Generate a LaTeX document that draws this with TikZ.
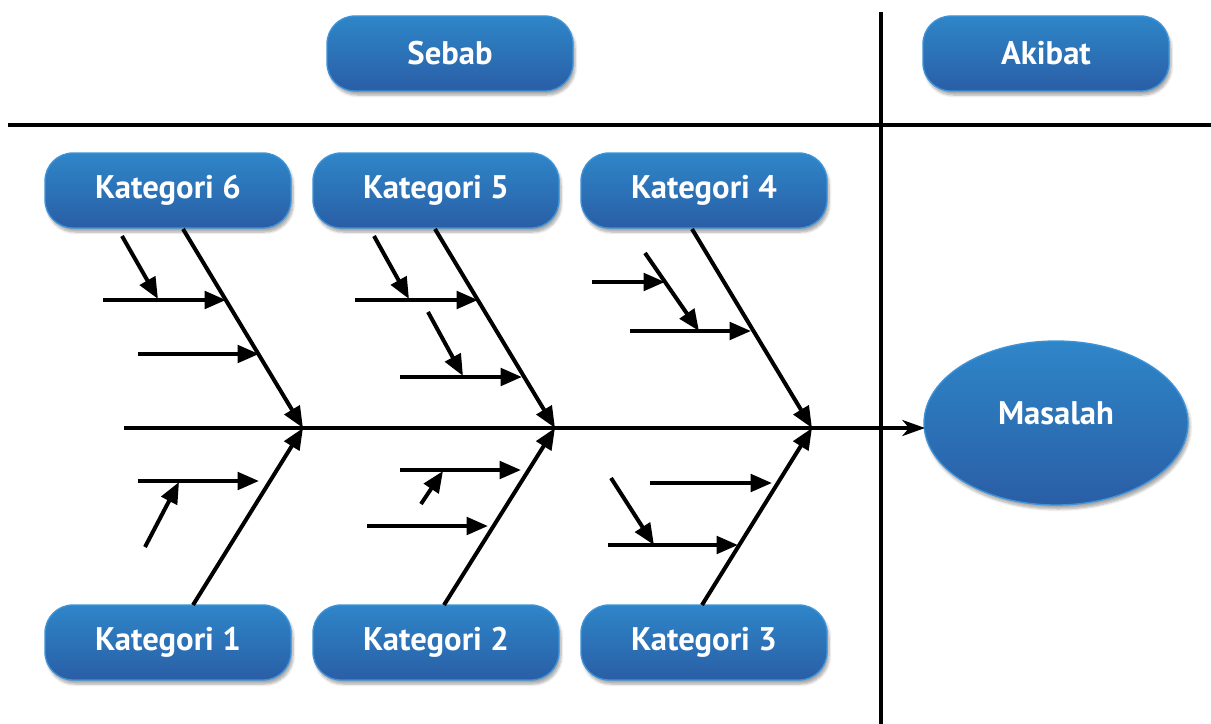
\documentclass[tikz,border=0pt]{standalone}
\usepackage{fontspec}
\setmainfont{PT Sans}
\usetikzlibrary{arrows.meta,shadows,shadows.blur,shapes.geometric}

\definecolor{boxtop}{HTML}{2E86C8}
\definecolor{boxbot}{HTML}{2A5EA6}
\definecolor{boxedge}{HTML}{3D93D9}

\begin{document}
\begin{tikzpicture}[x=0.75pt,y=-0.75pt,
  label font/.style={text=white, font=\bfseries\fontsize{24.5}{28}\selectfont},
  catbox/.style={label font, draw=boxedge, line width=1pt, rounded corners=21pt,
    top color=boxtop, bottom color=boxbot,
    minimum width=184.5pt, minimum height=56.25pt, inner sep=0pt,
    blur shadow={shadow xshift=1.5pt, shadow yshift=-3pt, shadow opacity=35, shadow blur steps=6}},
  effect/.style={ellipse, draw=boxedge, line width=1pt,
    top color=boxtop, bottom color=boxbot,
    minimum width=198pt, minimum height=123pt, inner sep=0pt,
    blur shadow={shadow xshift=1.5pt, shadow yshift=-3pt, shadow opacity=35, shadow blur steps=6}},
  rule/.style={line width=3pt},
  bone/.style={line width=3pt, -{Triangle[length=16pt, width=13pt]}},
  spine/.style={line width=2.6pt, -{Stealth[length=17pt, width=12pt, inset=5pt]}}
]
\useasboundingbox (0,0) rectangle (1211,724);

% frame rules
\coordinate (vtop) at (881,12);
\coordinate (vbot) at (881,724);
\coordinate (hl) at (8,125);
\coordinate (hr) at (1211,125);
\draw[rule] (vtop) -- (vbot);
\draw[rule] (hl) -- (hr);

% header boxes
\node[catbox] (sebab) at (450,53.5) {Sebab};
\node[catbox] (akibat) at (1046,53.5) {Akibat};

% category boxes
\node[catbox] (k6) at (168,190.5) {Kategori 6};
\node[catbox] (k5) at (436,190.5) {Kategori 5};
\node[catbox] (k4) at (704,190.5) {Kategori 4};
\node[catbox] (k1) at (168,642.5) {Kategori 1};
\node[catbox] (k2) at (436,642.5) {Kategori 2};
\node[catbox] (k3) at (704,642.5) {Kategori 3};

% effect, its label sits a little above the centre
\node[effect] (masalah) at (1056,423) {};
\node[label font] (masalahtext) at (1056,413) {Masalah};

% spine
\coordinate (tail) at (124,428);
\coordinate (head) at (925,428);
\draw[spine] (tail) -- (head);

% junctions on the spine
\coordinate (j1) at (303,428);
\coordinate (j2) at (555,428);
\coordinate (j3) at (812,428);

% main bones
\coordinate (b6) at (183,229);
\coordinate (b5) at (435,229);
\coordinate (b4) at (692,229);
\coordinate (b1) at (193,605);
\coordinate (b2) at (444,605);
\coordinate (b3) at (702,605);
\draw[bone] (b6) -- (j1);
\draw[bone] (b1) -- (j1);
\draw[bone] (b5) -- (j2);
\draw[bone] (b2) -- (j2);
\draw[bone] (b4) -- (j3);
\draw[bone] (b3) -- (j3);

% Kategori 6 causes
\coordinate (a6s) at (103,300); \coordinate (a6e) at (226,300);
\coordinate (c6s) at (138,354); \coordinate (c6e) at (259,354);
\coordinate (d6s) at (122,236); \coordinate (d6e) at (158,299);
\draw[bone] (a6s) -- (a6e);
\draw[bone] (c6s) -- (c6e);
\draw[bone] (d6s) -- (d6e);

% Kategori 1 causes
\coordinate (a1s) at (138,481); \coordinate (a1e) at (259,481);
\coordinate (d1s) at (145,547); \coordinate (d1e) at (179,482);
\draw[bone] (a1s) -- (a1e);
\draw[bone] (d1s) -- (d1e);

% Kategori 5 causes
\coordinate (a5s) at (355,300); \coordinate (a5e) at (478,300);
\coordinate (c5s) at (400,377); \coordinate (c5e) at (522,377);
\coordinate (d5s) at (374,236); \coordinate (d5e) at (409,299);
\coordinate (e5s) at (428,312); \coordinate (e5e) at (463,376);
\draw[bone] (a5s) -- (a5e);
\draw[bone] (c5s) -- (c5e);
\draw[bone] (d5s) -- (d5e);
\draw[bone] (e5s) -- (e5e);

% Kategori 2 causes
\coordinate (a2s) at (400,470); \coordinate (a2e) at (521,470);
\coordinate (c2s) at (367,526); \coordinate (c2e) at (488,526);
\coordinate (d2s) at (421,504); \coordinate (d2e) at (443,471);
\draw[bone] (a2s) -- (a2e);
\draw[bone] (c2s) -- (c2e);
\draw[bone] (d2s) -- (d2e);

% Kategori 4 causes
\coordinate (a4s) at (592,282); \coordinate (a4e) at (665,282);
\coordinate (c4s) at (630,331); \coordinate (c4e) at (751,331);
\coordinate (d4s) at (645,253); \coordinate (d4e) at (699,331);
\draw[bone] (a4s) -- (a4e);
\draw[bone] (c4s) -- (c4e);
\draw[bone] (d4s) -- (d4e);

% Kategori 3 causes
\coordinate (a3s) at (650,483); \coordinate (a3e) at (772,483);
\coordinate (c3s) at (608,545); \coordinate (c3e) at (738,545);
\coordinate (d3s) at (611,478); \coordinate (d3e) at (654,545);
\draw[bone] (a3s) -- (a3e);
\draw[bone] (c3s) -- (c3e);
\draw[bone] (d3s) -- (d3e);
\end{tikzpicture}
\end{document}
